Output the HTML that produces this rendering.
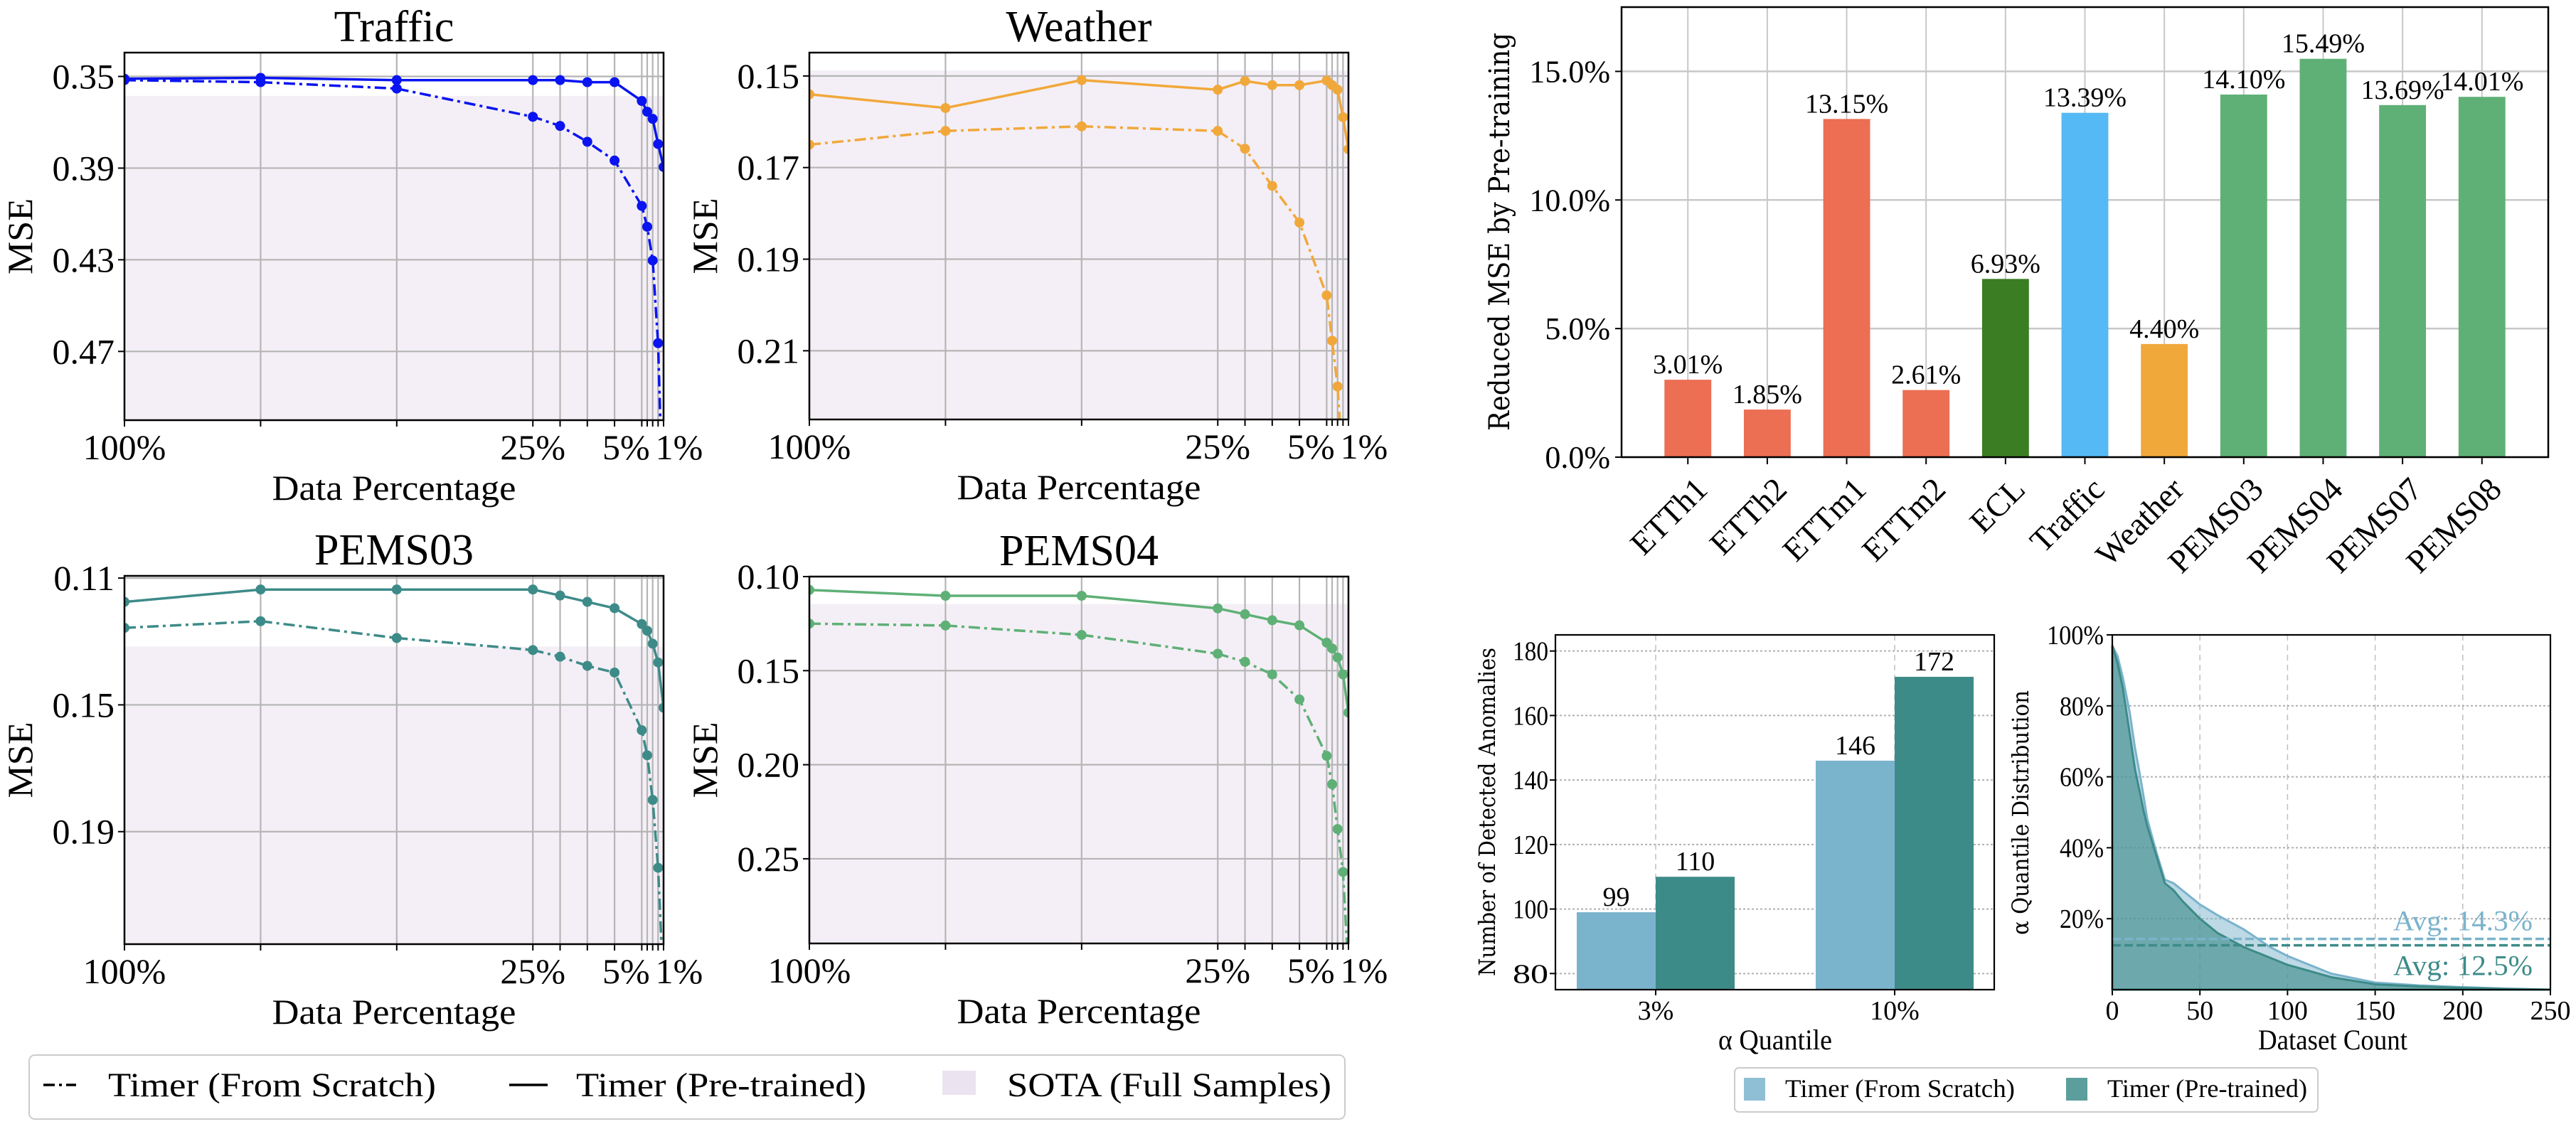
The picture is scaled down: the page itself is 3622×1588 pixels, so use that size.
<!DOCTYPE html>
<html><head><meta charset="utf-8">
<style>
html,body{margin:0;padding:0;background:#fff;}
svg{display:block;}
text{font-family:"Liberation Serif","DejaVu Serif",serif;fill:#000;}
.dv{font-family:"DejaVu Serif","Liberation Serif",serif;}
</style></head>
<body>
<svg id="fig" xmlns="http://www.w3.org/2000/svg" width="3622" height="1588" viewBox="0 0 3622 1588">
<rect x="0" y="0" width="3622" height="1588" fill="#fff"/>
<g id="lines"></g>
<g id="mainbar"></g>
<g id="anom"></g>
<g id="area"></g>
<!-- left legend -->
<g>
<rect x="41" y="1484" width="1850" height="90" rx="8" fill="#fff" stroke="#ccc" stroke-width="2"/>
<line x1="61" y1="1526" x2="107" y2="1526" stroke="#000" stroke-width="3.5" stroke-dasharray="16,6,4,6"/>
<text x="152" y="1542" font-size="48" textLength="461" lengthAdjust="spacingAndGlyphs">Timer (From Scratch)</text>
<line x1="716" y1="1526" x2="770" y2="1526" stroke="#000" stroke-width="3.5"/>
<text x="810" y="1542" font-size="48" textLength="408" lengthAdjust="spacingAndGlyphs">Timer (Pre-trained)</text>
<rect x="1325" y="1506" width="47" height="34" fill="#ece3f0"/>
<text x="1416" y="1542" font-size="48" textLength="456" lengthAdjust="spacingAndGlyphs">SOTA (Full Samples)</text>
</g>
<!-- right legend -->
<g>
<rect x="2439" y="1502" width="820" height="62" rx="6" fill="#fff" stroke="#ccc" stroke-width="2"/>
<rect x="2452" y="1516" width="30" height="32" fill="#8fbfd4"/>
<text x="2510" y="1543" font-size="36" textLength="323" lengthAdjust="spacingAndGlyphs">Timer (From Scratch)</text>
<rect x="2905" y="1516" width="30" height="32" fill="#5c9e9c"/>
<text x="2963" y="1543" font-size="36" textLength="281" lengthAdjust="spacingAndGlyphs">Timer (Pre-trained)</text>
</g>
</svg>
<script>
const NS="http://www.w3.org/2000/svg";
// ---------- line chart data ----------
const pcts=[100,75,50,25,20,15,10,5,4,3,2,1];
const trafficPre=[0.351,0.3506,0.3516,0.3516,0.3516,0.3525,0.3525,0.3607,0.3654,0.3685,0.3795,0.3895];
const trafficScratch=[0.3516,0.3525,0.3553,0.3676,0.3716,0.3785,0.3867,0.4065,0.4156,0.4303,0.4664,0.55];
const trafficSota=0.3585;
const trafficTicks=[0.35,0.39,0.43,0.47];
const weatherPre=[0.154,0.157,0.1509,0.153,0.1511,0.152,0.152,0.151,0.152,0.153,0.159,0.166];
const weatherScratch=[0.165,0.162,0.161,0.162,0.1659,0.174,0.182,0.1979,0.2078,0.2178,0.236,0.26];
const weatherSota=0.1488;
const weatherTicks=[0.15,0.17,0.19,0.21];
const pems03Pre=[0.1175,0.1136,0.1136,0.1136,0.1155,0.1175,0.1195,0.1245,0.1266,0.1307,0.1366,0.1509];
const pems03Scratch=[0.1257,0.1236,0.1289,0.1327,0.1348,0.1377,0.1398,0.158,0.1659,0.18,0.2014,0.24];
const pems03Sota=0.1316;
const pems03Ticks=[0.11,0.15,0.19];
const pems04Pre=[0.1071,0.1102,0.1102,0.1169,0.12,0.1232,0.1259,0.1351,0.1382,0.143,0.152,0.1723];
const pems04Scratch=[0.125,0.126,0.131,0.141,0.1453,0.152,0.1653,0.1953,0.2104,0.2342,0.257,0.31];
const pems04Sota=0.1146;
const pems04Ticks=[0.10,0.15,0.20,0.25];
const xTickPcts=[100,25,5,1];
// ---------- main bar data ----------
const datasets=["ETTh1","ETTh2","ETTm1","ETTm2","ECL","Traffic","Weather","PEMS03","PEMS04","PEMS07","PEMS08"];
const reduction=[3.01,1.85,13.15,2.61,6.93,13.39,4.40,14.10,15.49,13.69,14.01];
const barColors=["#ec6e53","#ec6e53","#ec6e53","#ec6e53","#3a7d23","#55b9f5","#f1a83b","#5fb076","#5fb076","#5fb076","#5fb076"];
const reductionTicks=[0,5,10,15];
// ---------- anomaly data ----------
const quantiles=["3%","10%"];
const scratchCounts=[99,146];
const pretrainedCounts=[110,172];
const anomTicks=[80,100,120,140,160,180];
// ---------- area data ----------
const areaCount=[0,3,6,10,13,16,18,20,25,30,35,40,50,60,75,90,100,125,150,175,200,225,250];
const areaScratch=[97,94,88,78,68,60,54,48,39,31,30,28,24,21,17,12,9.5,4.5,2,1.2,0.7,0.3,0];
const areaPre=[97,92,85,72,62,55,50,46,38,30,28,25,20,16,12,9,7,3.5,1.5,0.9,0.5,0.2,0];
const avgScratch=14.3, avgPre=12.5;
const areaYTicks=[20,40,60,80,100];
const areaXTicks=[0,50,100,150,200,250];

function el(tag,attrs,parent,txt){const e=document.createElementNS(NS,tag);for(const k in attrs)e.setAttribute(k,attrs[k]);if(txt!==undefined)e.textContent=txt;if(parent)parent.appendChild(e);return e;}

let clipN=0;
function lineChart(o){
  const g=el("g",{},document.getElementById("lines"));
  
  
  const X=p=>o.L+(100-p)/99*(o.R-o.L);
  const Y=v=>o.T+(v-o.y0)/(o.y1-o.y0)*(o.B-o.T);
  const id="clip"+(clipN++);
  const cp=el("clipPath",{id:id},g);el("rect",{x:o.L,y:o.T,width:o.R-o.L,height:o.B-o.T},cp);
  const sota=el("rect",{x:o.L,y:Y(o.sota),width:o.R-o.L,height:o.B-Y(o.sota),fill:"#f4eff6"},g);
  
  
  pcts.forEach(p=>{const l=el("line",{x1:X(p),x2:X(p),y1:o.T,y2:o.B,stroke:"#b5b5b5","stroke-width":2.2},g);
    
    
    el("line",{x1:X(p),x2:X(p),y1:o.B,y2:o.B+9,stroke:"#000","stroke-width":2},g);});
  o.ticks.forEach(t=>{const l=el("line",{x1:o.L,x2:o.R,y1:Y(t),y2:Y(t),stroke:"#b5b5b5","stroke-width":2.2},g);
    
    
    el("line",{x1:o.L-9,x2:o.L,y1:Y(t),y2:Y(t),stroke:"#000","stroke-width":2},g);
    const tx=el("text",{x:o.L-14,y:Y(t)+17,"font-size":50,"text-anchor":"end"},g,t.toFixed(2));
    
    });
  xTickPcts.forEach(p=>{const tx=el("text",{x:X(p)+(p==1?22:(p==5?-22:0)),y:o.B+55,"font-size":50,"text-anchor":"middle"},g,p+"%");
    
    });
  const cg=el("g",{"clip-path":"url(#"+id+")"},g);
  const series=[[o.scratch,"16,6,4,6","scratch-line"],[o.pre,"none","pretrained-line"]];
  series.forEach(([vals,dash,nm])=>{
    const pts=vals.map((v,i)=>X(pcts[i]).toFixed(1)+","+Y(v).toFixed(1)).join(" ");
    const pl=el("polyline",{points:pts,fill:"none",stroke:o.color,"stroke-width":3.5,"stroke-dasharray":dash},cg);
    
    
    vals.forEach((v,i)=>{const c=el("circle",{cx:X(pcts[i]),cy:Y(v),r:7,fill:o.color},cg);
      
      });
  });
  el("rect",{x:o.L,y:o.T,width:o.R-o.L,height:o.B-o.T,fill:"none",stroke:"#000","stroke-width":2.5},g);
  const cx=(o.L+o.R)/2;
  const tt=el("text",{x:cx,y:o.T-16,"font-size":62,"text-anchor":"middle"},g,o.title);
  
  
  const xl=el("text",{x:cx,y:o.B+112,"font-size":50,"text-anchor":"middle",textLength:343,lengthAdjust:"spacingAndGlyphs"},g,"Data Percentage");
  
  
  const my=(o.T+o.B)/2;
  const yl=el("text",{x:0,y:0,"font-size":50,"text-anchor":"middle",transform:"translate("+(o.L-130)+","+my+") rotate(-90)",textLength:107,lengthAdjust:"spacingAndGlyphs"},g,"MSE");
  
  
}
lineChart({name:"traffic",title:"Traffic",L:175,R:933,T:74,B:591,y0:0.3396,y1:0.50,ticks:trafficTicks,pre:trafficPre,scratch:trafficScratch,sota:trafficSota,color:"#0a14f0"});
lineChart({name:"weather",title:"Weather",L:1138,R:1896,T:74,B:590,y0:0.1449,y1:0.225,ticks:weatherTicks,pre:weatherPre,scratch:weatherScratch,sota:weatherSota,color:"#f1a83b"});
lineChart({name:"pems03",title:"PEMS03",L:175,R:933,T:810,B:1328,y0:0.1093,y1:0.2255,ticks:pems03Ticks,pre:pems03Pre,scratch:pems03Scratch,sota:pems03Sota,color:"#3d8b89"});
lineChart({name:"pems04",title:"PEMS04",L:1138,R:1896,T:811,B:1327,y0:0.10,y1:0.295,ticks:pems04Ticks,pre:pems04Pre,scratch:pems04Scratch,sota:pems04Sota,color:"#5fb076"});

// ---------- main bar chart ----------
(function(){
  const g=document.getElementById("mainbar");
  
  
  const L=2280,R=3583,T=10,B=643,ymax=17.5;
  const sp=(R-L)/(datasets.length-1+1.67);
  const X=i=>L+(i+0.835)*sp;
  const Y=v=>B-v/ymax*(B-T);
  datasets.forEach((d,i)=>{el("line",{x1:X(i),x2:X(i),y1:T,y2:B,stroke:"#c8c8c8","stroke-width":2},g);
    el("line",{x1:X(i),x2:X(i),y1:B,y2:B+10,stroke:"#000","stroke-width":2},g);});
  reductionTicks.forEach(t=>{el("line",{x1:L,x2:R,y1:Y(t),y2:Y(t),stroke:"#c8c8c8","stroke-width":2.5},g);
    el("line",{x1:L-9,x2:L,y1:Y(t),y2:Y(t),stroke:"#000","stroke-width":2},g);
    const tx=el("text",{x:L-16,y:Y(t)+15,"font-size":44,"text-anchor":"end"},g,t.toFixed(1)+"%");
    
    });
  const bw=sp*0.59;
  reduction.forEach((v,i)=>{
    const r=el("rect",{x:X(i)-bw/2,y:Y(v),width:bw,height:B-Y(v),fill:barColors[i]},g);
    
    
    const t=el("text",{x:X(i),y:Y(v)-9,"font-size":38,"text-anchor":"middle"},g,v.toFixed(2)+"%");
    
    
    const xl=el("text",{x:0,y:0,"font-size":46,"text-anchor":"end",transform:"translate("+(X(i)+30)+","+(B+48)+") rotate(-45)"},g,datasets[i]);
    
    
  });
  el("rect",{x:L,y:T,width:R-L,height:B-T,fill:"none",stroke:"#000","stroke-width":2.5},g);
  const yl=el("text",{x:0,y:0,"font-size":40,"text-anchor":"middle","class":"dv",transform:"translate(2122,326) rotate(-90)",textLength:560,lengthAdjust:"spacingAndGlyphs"},g,"Reduced MSE by Pre-training");
  
  
})();

// ---------- anomaly bar chart ----------
(function(){
  const g=document.getElementById("anom");
  
  
  const L=2187,R=2804,T=893,B=1392,y0=75,y1=185;
  const centers=[2328,2664];
  const Y=v=>B-(v-y0)/(y1-y0)*(B-T);
  const bw=111;
  anomTicks.forEach(t=>{el("line",{x1:L,x2:R,y1:Y(t),y2:Y(t),stroke:"#b0b0b0","stroke-width":2,"stroke-dasharray":"3,3"},g);
    el("line",{x1:L-8,x2:L,y1:Y(t),y2:Y(t),stroke:"#000","stroke-width":2},g);
    const tx=el("text",{x:L-10,y:Y(t)+13,"font-size":38,"text-anchor":"end",textLength:50,lengthAdjust:"spacingAndGlyphs"},g,t);
    
    });
  quantiles.forEach((q,i)=>{
    const c=centers[i];
    el("line",{x1:c,x2:c,y1:T,y2:B,stroke:"#c0c0c0","stroke-width":1.5,"stroke-dasharray":"8,6"},g);
    el("line",{x1:c,x2:c,y1:B,y2:B+8,stroke:"#000","stroke-width":2},g);
    const r1=el("rect",{x:c-bw,y:Y(scratchCounts[i]),width:bw,height:B-Y(scratchCounts[i]),fill:"#7ab3cc"},g);
    
    
    const r2=el("rect",{x:c,y:Y(pretrainedCounts[i]),width:bw,height:B-Y(pretrainedCounts[i]),fill:"#3d8b89"},g);
    
    
    const t1=el("text",{x:c-bw/2,y:Y(scratchCounts[i])-9,"font-size":38,"text-anchor":"middle"},g,scratchCounts[i]);
    
    
    const t2=el("text",{x:c+bw/2,y:Y(pretrainedCounts[i])-9,"font-size":38,"text-anchor":"middle"},g,pretrainedCounts[i]);
    
    
    const xl=el("text",{x:c,y:1434,"font-size":38,"text-anchor":"middle"},g,q);
    
    
  });
  el("rect",{x:L,y:T,width:R-L,height:B-T,fill:"none",stroke:"#000","stroke-width":2.2},g);
  const xl=el("text",{x:2496,y:1476,"font-size":40,"text-anchor":"middle",textLength:160,lengthAdjust:"spacingAndGlyphs"},g,"α Quantile");
  
  
  const yl=el("text",{x:0,y:0,"font-size":32,"text-anchor":"middle","class":"dv",transform:"translate(2102,1142) rotate(-90)",textLength:462,lengthAdjust:"spacingAndGlyphs"},g,"Number of Detected Anomalies");
  
  
})();

// ---------- area chart ----------
(function(){
  const g=document.getElementById("area");
  
  
  const L=2970,R=3586,T=893,B=1392;
  const X=v=>L+v/250*(R-L);
  const Y=v=>B-v/100*(B-T);
  areaXTicks.forEach(t=>{ if(t>0&&t<250) el("line",{x1:X(t),x2:X(t),y1:T,y2:B,stroke:"#c0c0c0","stroke-width":1.5,"stroke-dasharray":"8,6"},g);
    el("line",{x1:X(t),x2:X(t),y1:B,y2:B+8,stroke:"#000","stroke-width":2},g);
    const tx=el("text",{x:X(t),y:1434,"font-size":38,"text-anchor":"middle"},g,t);
    
    });
  areaYTicks.forEach(t=>{ if(t<100) el("line",{x1:L,x2:R,y1:Y(t),y2:Y(t),stroke:"#b0b0b0","stroke-width":2,"stroke-dasharray":"3,3"},g);
    el("line",{x1:L-8,x2:L,y1:Y(t),y2:Y(t),stroke:"#000","stroke-width":2},g);
    const tx=el("text",{x:L-12,y:Y(t)+13,"font-size":38,"text-anchor":"end",textLength:t==100?80:62,lengthAdjust:"spacingAndGlyphs"},g,t+"%");
    
    });
  function area(vals,fill,stroke,nm){
    let d="M"+X(areaCount[0])+","+B;
    vals.forEach((v,i)=>{d+=" L"+X(areaCount[i]).toFixed(1)+","+Y(v).toFixed(1);});
    d+=" L"+X(areaCount[areaCount.length-1])+","+B+" Z";
    const p=el("path",{d:d,fill:fill,stroke:stroke,"stroke-width":3},g);
    
    
  }
  area(areaScratch,"rgba(122,179,204,0.5)","#7ab3cc","area-scratch");
  area(areaPre,"rgba(61,139,137,0.62)","#3d8b89","area-pretrained");
  const a1=el("line",{x1:L,x2:R,y1:Y(avgScratch),y2:Y(avgScratch),stroke:"#7ab3cc","stroke-width":3.5,"stroke-dasharray":"12,5"},g);
  
  
  const a2=el("line",{x1:L,x2:R,y1:Y(avgPre),y2:Y(avgPre),stroke:"#3d8b89","stroke-width":3.5,"stroke-dasharray":"12,5"},g);
  
  
  const t1=el("text",{x:3561,y:Y(avgScratch)-12,"font-size":40,"text-anchor":"end",style:"fill:#7ab3cc",textLength:196,lengthAdjust:"spacingAndGlyphs"},g,"Avg: "+avgScratch+"%");
  
  
  const t2=el("text",{x:3561,y:Y(avgPre)+42,"font-size":40,"text-anchor":"end",style:"fill:#3d8b89",textLength:196,lengthAdjust:"spacingAndGlyphs"},g,"Avg: "+avgPre+"%");
  
  
  el("rect",{x:L,y:T,width:R-L,height:B-T,fill:"none",stroke:"#000","stroke-width":2.2},g);
  const xl=el("text",{x:3280,y:1476,"font-size":40,"text-anchor":"middle",textLength:210,lengthAdjust:"spacingAndGlyphs"},g,"Dataset Count");
  
  
  const yl=el("text",{x:0,y:0,"font-size":32,"text-anchor":"middle","class":"dv",transform:"translate(2852,1143) rotate(-90)",textLength:344,lengthAdjust:"spacingAndGlyphs"},g,"α Quantile Distribution");
  
  
})();
</script>
</body></html>
